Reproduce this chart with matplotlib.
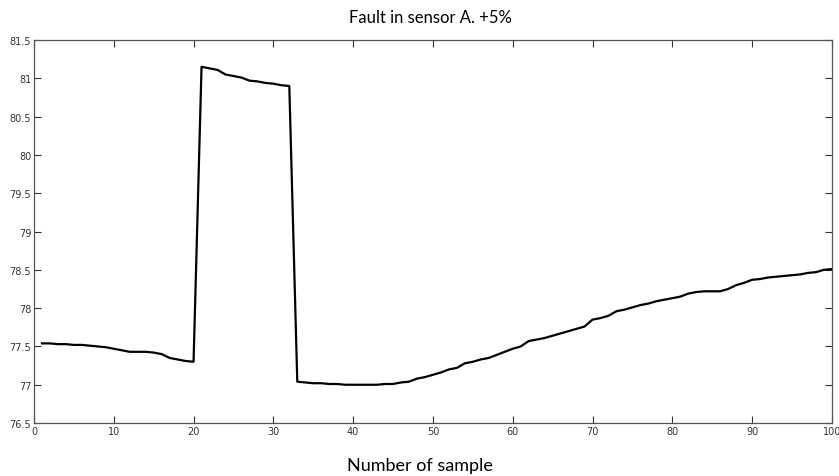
import matplotlib
matplotlib.use("Agg")
import matplotlib.pyplot as plt
import numpy as np

samples = list(range(1, 101))
values = [
    77.54, 77.54, 77.53, 77.53, 77.52, 77.52, 77.51, 77.50, 77.49, 77.47,
    77.45, 77.43, 77.43, 77.43, 77.42, 77.40, 77.35, 77.33, 77.31, 77.30,
    81.15, 81.13, 81.11, 81.05, 81.03, 81.01, 80.97, 80.96, 80.94, 80.93,
    80.91, 80.90, 77.04, 77.03, 77.02, 77.02, 77.01, 77.01, 77.00, 77.00,
    77.00, 77.00, 77.00, 77.01, 77.01, 77.03, 77.04, 77.08, 77.10, 77.13,
    77.16, 77.20, 77.22, 77.28, 77.30, 77.33, 77.35, 77.39, 77.43, 77.47,
    77.50, 77.57, 77.59, 77.61, 77.64, 77.67, 77.70, 77.73, 77.76, 77.85,
    77.87, 77.90, 77.96, 77.98, 78.01, 78.04, 78.06, 78.09, 78.11, 78.13,
    78.15, 78.19, 78.21, 78.22, 78.22, 78.22, 78.25, 78.30, 78.33, 78.37,
    78.38, 78.40, 78.41, 78.42, 78.43, 78.44, 78.46, 78.47, 78.50, 78.51,
]
x_ticks = [0, 10, 20, 30, 40, 50, 60, 70, 80, 90, 100]
y_ticks = [76.5, 77, 77.5, 78, 78.5, 79, 79.5, 80, 80.5, 81, 81.5]
y_tick_labels = ["76.5", "77", "77.5", "78", "78.5", "79", "79.5", "80", "80.5", "81", "81.5"]

fig = plt.figure(figsize=(8.39, 4.77), dpi=100)
ax = fig.add_axes([0.0405, 0.111, 0.951, 0.803])
ax.plot(samples, values, color="black", linewidth=1.6)
ax.set_xlim(0, 100)
ax.set_ylim(76.5, 81.5)
ax.set_xticks(x_ticks)
ax.set_yticks(y_ticks)
ax.set_yticklabels(y_tick_labels)
tick_font = ["Liberation Sans Narrow", "DejaVu Sans"]
for lab in ax.get_xticklabels() + ax.get_yticklabels():
    lab.set_family(tick_font)
    lab.set_fontsize(7)
    lab.set_color("#333333")
ax.tick_params(direction="in", length=5, width=0.8, top=True, right=True,
               pad=2, color="#333333")
for s in ax.spines.values():
    s.set_color("#555555")
    s.set_linewidth(0.9)

fig.text(0.513, 0.962, "Fault in sensor A. +5%", ha="center", va="center",
         fontsize=12, family=["Lato", "DejaVu Sans"])
fig.text(0.500, 0.023, "Number of sample", ha="center", va="center",
         fontsize=13, family=["Lato", "DejaVu Sans"])

fig.savefig("out.png", dpi=100)
